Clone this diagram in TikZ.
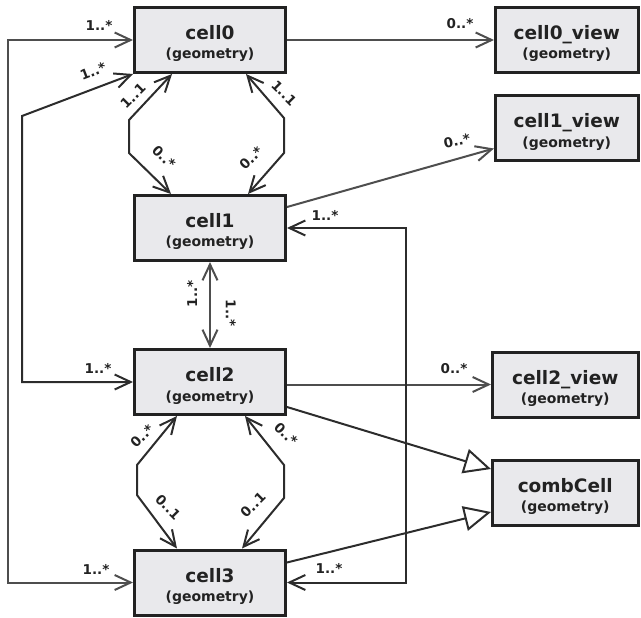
\documentclass[tikz,border=0pt]{standalone}
\usepackage{fontspec}
\setmainfont{DejaVu Sans}
\usetikzlibrary{arrows.meta}

\definecolor{boxfill}{HTML}{E9E9EC}
\definecolor{ink}{HTML}{222222}
\definecolor{wiredark}{HTML}{2C2C2C}
\definecolor{wiregray}{HTML}{4E4E4E}

\tikzset{
  cls/.style={draw=ink, fill=boxfill, line width=3pt, minimum height=65pt, inner sep=0pt},
  ttl/.style={font=\fontsize{18.5}{20}\selectfont\bfseries, text=ink, inner sep=0pt, anchor=base},
  sub/.style={font=\fontsize{14}{16}\selectfont\bfseries, text=ink, inner sep=0pt, anchor=base},
  mult/.style={font=\fontsize{13.5}{15}\selectfont\bfseries, text=ink, inner sep=0pt},
  assoc/.style={line width=2pt, draw=wiredark, line join=miter,
    >={Straight Barb[length=16pt, width=15pt, line width=2pt]}},
  grayassoc/.style={assoc, draw=wiregray},
  inherit/.style={line width=2pt, draw=wiredark,
    -{Triangle[open, fill=white, length=27pt, width=25pt, line width=2pt]}},
}

% class box: name, x, y, box width, title
\newcommand\umlclass[5]{%
  \node[cls, minimum width=#4pt] (#1) at (#2,#3) {};
  \node[ttl] (#1-t) at ([yshift=0.5pt]#1.center) {#5};
  \node[sub] (#1-s) at ([yshift=-19pt]#1.center) {(geometry)};
}

\begin{document}
\begin{tikzpicture}[x=1pt, y=-1pt]
  \useasboundingbox (0,0) rectangle (641,618);

  % classes
  \umlclass{c0}{210}{40}{151}{cell0}
  \umlclass{c1}{210}{228}{151}{cell1}
  \umlclass{c2}{210}{382}{151}{cell2}
  \umlclass{c3}{210}{582.5}{151}{cell3}
  \umlclass{c0v}{566.75}{40}{142.5}{cell0\_view}
  \umlclass{c1v}{566.75}{128.5}{142.5}{cell1\_view}
  \umlclass{c2v}{565.25}{384.5}{145.5}{cell2\_view}
  \umlclass{cc}{565.25}{492.5}{145.5}{combCell}

  % bend points of the routed associations
  \coordinate (outerrail) at (8,300);
  \coordinate (innerrail) at (22,116);
  \coordinate (rightrail) at (406,400);
  \coordinate (oa1) at (129,120);
  \coordinate (oa2) at (129,153);
  \coordinate (ob1) at (284,118);
  \coordinate (ob2) at (284,153);
  \coordinate (oc1) at (137,465);
  \coordinate (oc2) at (137,495);
  \coordinate (od1) at (284,465);
  \coordinate (od2) at (284,498);

  % associations on the left
  \draw[grayassoc, <->] (c0.west) -| (outerrail) |- (c3.west);
  \draw[assoc, <->] (c0.south west) -- (innerrail) |- (c2.west);

  % cell0 <-> cell1
  \draw[assoc, <->] ([xshift=-38pt]c0.south) -- (oa1) -- (oa2) -- ([xshift=-39pt]c1.north);
  \draw[assoc, <->] ([xshift=36pt]c0.south) -- (ob1) -- (ob2) -- ([xshift=38pt]c1.north);

  % cell1 <-> cell2
  \draw[grayassoc, <->] (c1.south) -- (c2.north);

  % cell2 <-> cell3
  \draw[assoc, <->] ([xshift=-33pt]c2.south) -- (oc1) -- (oc2) -- ([xshift=-33pt]c3.north);
  \draw[assoc, <->] ([xshift=35pt]c2.south) -- (od1) -- (od2) -- ([xshift=32pt]c3.north);

  % views
  \draw[grayassoc, ->] (c0.east) -- (c0v.west);
  \draw[grayassoc, ->] ([yshift=21pt]c1.east) -- ([yshift=-20pt]c1v.west);
  \draw[grayassoc, ->] (c2v.west -| c2.east) -- (c2v.west);

  % right rail cell1 <-> cell3
  \draw[assoc, <->] (c1.east) -| (rightrail) |- (c3.east);

  % generalisation
  \draw[inherit] ([yshift=-25pt]c2.east) -- ([yshift=23.5pt]cc.west);
  \draw[inherit] ([yshift=20pt]c3.east) -- ([yshift=-19.5pt]cc.west);

  % multiplicities
  \node[mult] (m1)  at (99,25)  {1..*};
  \node[mult, rotate=21] (m2) at (93,71) {1..*};
  \node[mult, rotate=45] (m3) at (133,96) {1..1};
  \node[mult, rotate=-45] (m4) at (164,157) {0..*};
  \node[mult, rotate=-45] (m5) at (284,93) {1..1};
  \node[mult, rotate=45] (m6) at (251,158) {0..*};
  \node[mult, rotate=90] (m7) at (192,294) {1..*};
  \node[mult, rotate=-90] (m8) at (231,313) {1..*};
  \node[mult] (m9)  at (98,368) {1..*};
  \node[mult, rotate=45] (m10) at (142,436) {0..*};
  \node[mult, rotate=-45] (m11) at (168,507) {0..1};
  \node[mult, rotate=-45] (m12) at (286,434) {0..*};
  \node[mult, rotate=45] (m13) at (253,505) {0..1};
  \node[mult] (m14) at (96,569) {1..*};
  \node[mult] (m15) at (329,568) {1..*};
  \node[mult] (m16) at (325,215) {1..*};
  \node[mult] (m17) at (460,24) {0..*};
  \node[mult, rotate=12] (m18) at (457,141) {0..*};
  \node[mult] (m19) at (454,369) {0..*};
\end{tikzpicture}
\end{document}
